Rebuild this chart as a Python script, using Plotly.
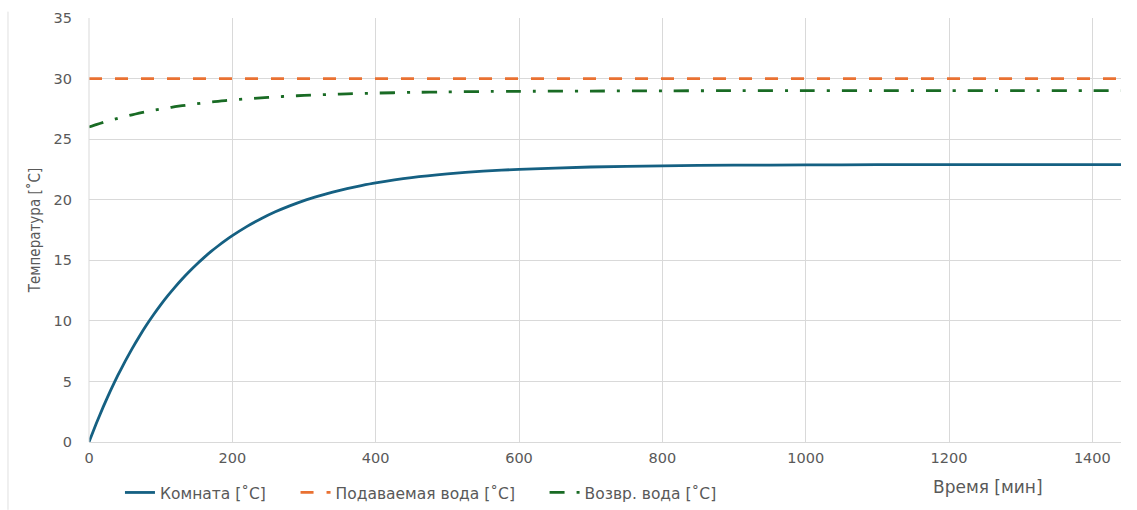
import plotly.graph_objects as go

# Time [min]
time_min = [0, 10, 20, 30, 40, 50, 60, 70, 80, 90, 100, 110, 120, 130, 140, 150, 160, 170, 180, 190,
            200, 220, 240, 260, 280, 300, 320, 340, 360, 380, 400, 450, 500, 550, 600, 700, 800,
            900, 1000, 1100, 1200, 1300, 1440]
# Room temperature [°C]
room = [0.0, 1.51, 2.92, 4.24, 5.47, 6.62, 7.69, 8.69, 9.63, 10.5, 11.32, 12.08, 12.79, 13.46, 14.08,
        14.66, 15.2, 15.71, 16.18, 16.62, 17.03, 17.78, 18.43, 19.0, 19.49, 19.93, 20.3, 20.63, 20.92,
        21.17, 21.39, 21.83, 22.14, 22.36, 22.51, 22.7, 22.8, 22.85, 22.87, 22.89, 22.9, 22.9, 22.9]
# Supply water [°C]
supply = [30.0] * len(time_min)
# Return water [°C]
ret = [26.0, 26.2, 26.38, 26.56, 26.72, 26.87, 27.01, 27.14, 27.26, 27.38, 27.48, 27.58, 27.68, 27.76,
       27.84, 27.92, 27.99, 28.06, 28.12, 28.18, 28.23, 28.33, 28.41, 28.49, 28.55, 28.61, 28.66,
       28.7, 28.74, 28.77, 28.8, 28.86, 28.9, 28.93, 28.95, 28.97, 28.99, 29.0, 29.0, 29.0, 29.0,
       29.0, 29.0]

names = ["Комната [˚C]", "Подаваемая вода [˚C]", "Возвр. вода [˚C]"]
x_ticks = [0, 200, 400, 600, 800, 1000, 1200, 1400]
y_ticks = [0, 5, 10, 15, 20, 25, 30, 35]

grey = "#595959"
grid = "#d9d9d9"
pad = "\u00a0" * 5

fig = go.Figure()
fig.add_trace(go.Scatter(x=time_min, y=room, name=names[0] + pad, mode="lines",
                         line=dict(color="#156082", width=2.8, shape="spline", smoothing=0.5)))
fig.add_trace(go.Scatter(x=time_min, y=supply, name=names[1] + pad, mode="lines",
                         line=dict(color="#E97132", width=2.8, dash="13px,13px")))
fig.add_trace(go.Scatter(x=time_min, y=ret, name=names[2], mode="lines",
                         line=dict(color="#196B24", width=2.8, dash="15px,12px,3px,12px",
                                   shape="spline", smoothing=0.5)))

fig.update_layout(
    width=1137, height=510,
    margin=dict(l=89, r=16, t=18, b=68, autoexpand=False),
    paper_bgcolor="white", plot_bgcolor="white",
    font=dict(family="DejaVu Sans", size=14, color=grey),
    showlegend=True,
    legend=dict(orientation="h", x=0.03, y=-0.12, xanchor="left", yanchor="middle",
                font=dict(family="DejaVu Sans", size=15.5, color=grey), itemwidth=30),
    xaxis=dict(range=[0, 1440], tickvals=x_ticks, showgrid=True, gridcolor=grid, gridwidth=1,
               zeroline=False, showline=True, linecolor=grid, linewidth=1, ticks="",
               automargin=False,
               tickfont=dict(size=14.5, color=grey), ticklabelstandoff=3),
    yaxis=dict(range=[0, 35], tickvals=y_ticks, showgrid=True, gridcolor=grid, gridwidth=1,
               zeroline=False, showline=False, ticks="", automargin=False,
               tickfont=dict(size=14.5, color=grey), ticklabelstandoff=16,
               title=dict(text="Температура [˚C]", standoff=9,
                          font=dict(family="DejaVu Sans Condensed, Roboto", size=15, color=grey))),
)
# left axis line at x=0
fig.add_shape(type="line", xref="paper", yref="paper", x0=0, x1=0, y0=0, y1=1,
              line=dict(color=grid, width=1))
# outer frame line on the left edge
fig.add_shape(type="line", xref="paper", yref="paper", x0=-0.0785, x1=-0.0785, y0=-0.16, y1=1.015,
              line=dict(color="#e0e0e0", width=1))
fig.add_annotation(text="Время [мин]", xref="paper", yref="paper", x=0.871, y=-0.106,
                   xanchor="center", yanchor="middle",
                   showarrow=False, font=dict(family="DejaVu Sans", size=17, color=grey))

fig.write_html("out.html", post_script="document.body.style.margin='0';",
               config={"displayModeBar": False})
